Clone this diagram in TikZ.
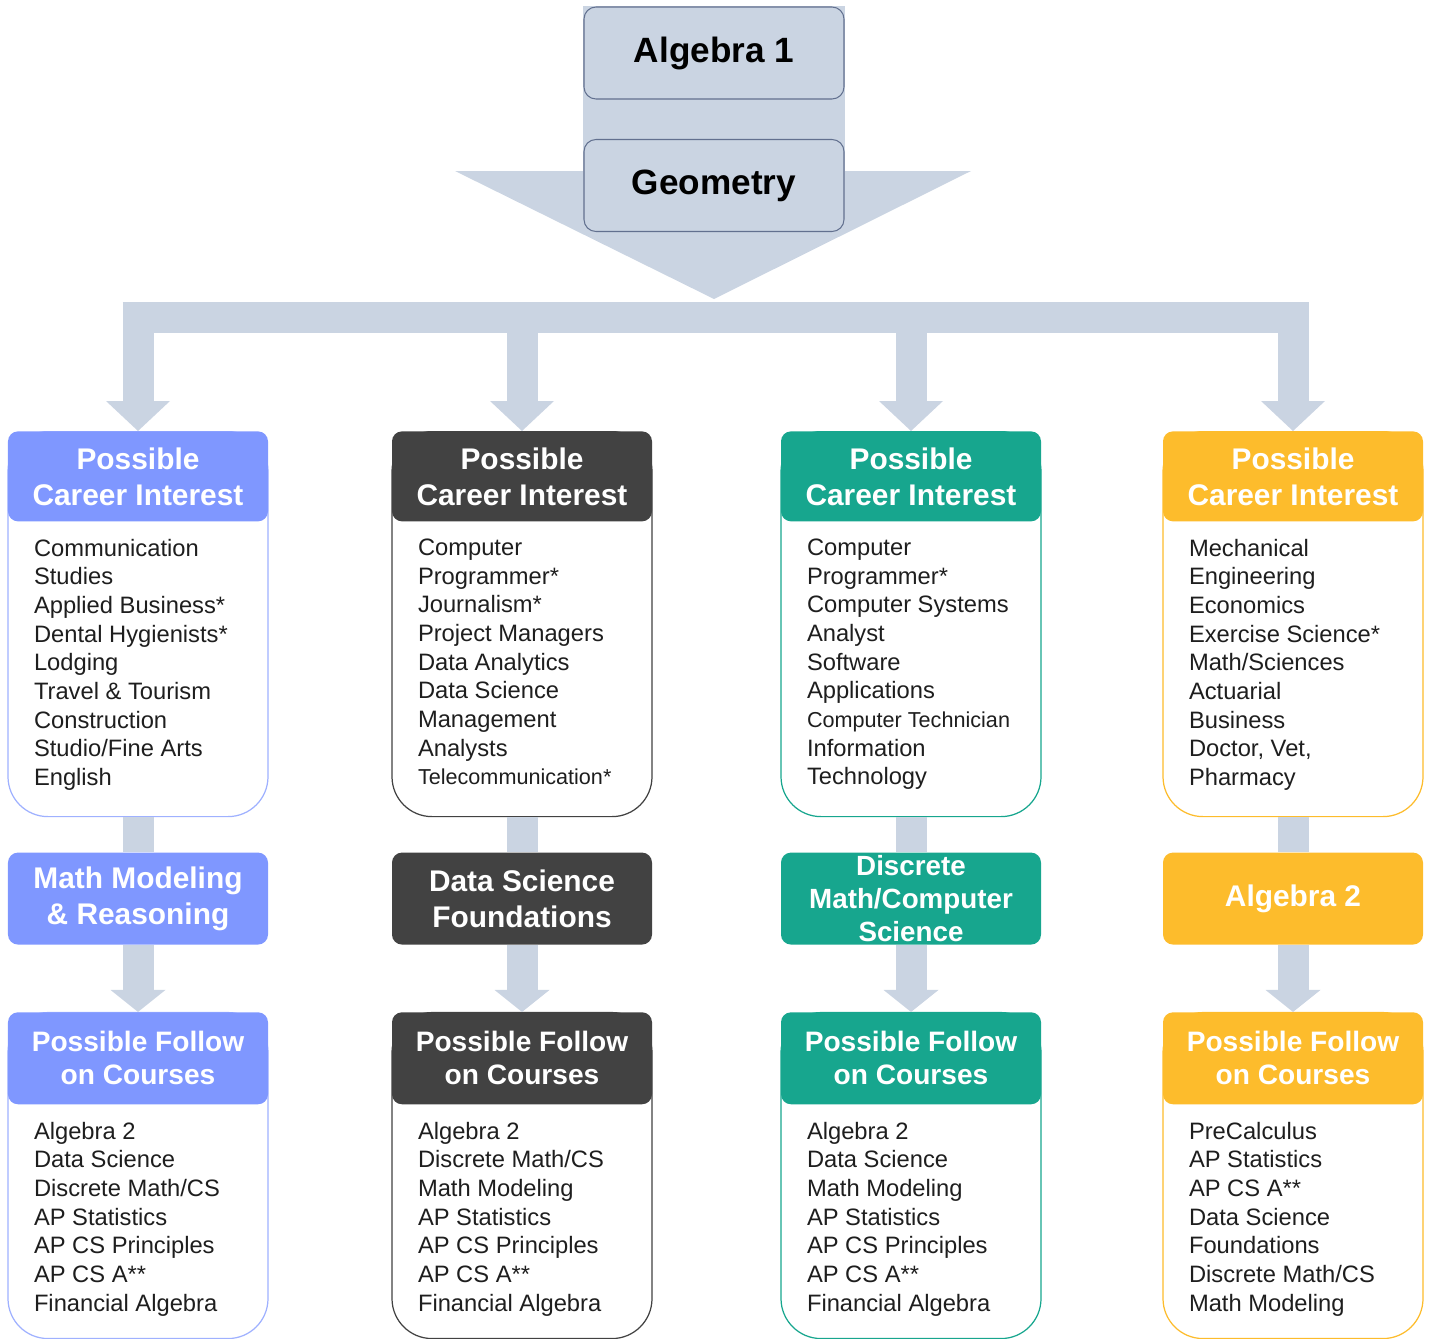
\documentclass[tikz,border=0pt]{standalone}
\usepackage{fontspec}
\setmainfont{Liberation Sans}
\usetikzlibrary{positioning,arrows.meta,backgrounds}
\definecolor{paleblue}{HTML}{CAD4E2}
\definecolor{boxline}{HTML}{62708F}
\definecolor{cblue}{HTML}{7F97FF}
\definecolor{cdark}{HTML}{424242}
\definecolor{cteal}{HTML}{17A68E}
\definecolor{cgold}{HTML}{FDBC2C}
\definecolor{listtext}{HTML}{1E1E1E}
\begin{document}
\begin{tikzpicture}[
        font=\bfseries,
        headfont/.style={font=\fontsize{17}{20.5}\selectfont\bfseries},
        followfont/.style={font=\fontsize{16}{18.8}\selectfont\bfseries}
    ]
    \tikzset{
        topbox/.style = {rectangle, rounded corners=0.24cm, draw=boxline, line width=0.6pt, fill=paleblue, minimum width=5.2cm, minimum height=1.84cm, font=\fontsize{20}{24}\selectfont\bfseries},
        cardbody/.style = {rectangle, rounded corners=0.8cm, draw=#1, line width=0.7pt, fill=white, minimum width=5.2cm, anchor=north},
        cardhead/.style = {rectangle, rounded corners=0.2cm, fill=#1, text=white, minimum width=5.2cm, align=center, anchor=north},
        midbox/.style = {rectangle, rounded corners=0.2cm, fill=#1, text=white, minimum width=5.2cm, minimum height=1.84cm, align=center, headfont},
        cardlist/.style = {align=left, inner sep=0pt, text=listtext, font=\fontsize{13.5}{16.3}\selectfont},
        stem/.style = {paleblue, line width=0.62cm},
        fatarrow/.style = {stem, -{Triangle[width=1.28cm,length=0.6cm,line width=0pt]}},
        smallarrow/.style = {stem, -{Triangle[width=1.1cm,length=0.44cm,line width=0pt]}},
    }
    \useasboundingbox (0,0) rectangle (28.58,-26.76);
    \node[topbox] (alg) at (14.28,-1.06) {Algebra 1};
    \node[topbox] (geo) at (14.28,-3.71) {Geometry};
    \coordinate (tip) at (14.28,-5.98);
    \coordinate (wingL) at (9.1,-3.42);
    \coordinate (wingR) at (19.42,-3.42);
    \coordinate (bar) at (14.28,-6.34);
    \begin{scope}[on background layer]
        \fill[paleblue] (alg.north west) rectangle (geo.east |- wingR);
        \fill[paleblue] (wingL) -- (wingR) -- (tip) -- cycle;
    \end{scope}

    \node[cardbody=cblue!75, minimum height=7.7cm] (cb1) at (2.76,-8.62) {};
    \node[cardhead=cblue, minimum height=1.8cm, headfont] (ch1) at (cb1.north) {Possible\\Career Interest};
    \node[cardlist, below right=0.34cm and 0.52cm of ch1.south west] (cl1) {Communication\\Studies\\Applied Business*\\Dental Hygienists*\\Lodging\\Travel \& Tourism\\Construction\\Studio/Fine Arts\\English};
    \node[midbox=cblue, below=0.7cm of cb1] (mid1) {Math Modeling\\\& Reasoning};
    \node[cardbody=cblue!75, minimum height=6.52cm, below=1.34cm of mid1] (fb1) {};
    \node[cardhead=cblue, minimum height=1.84cm, followfont] (fh1) at (fb1.north) {Possible Follow\\on Courses};
    \node[cardlist, below right=0.34cm and 0.52cm of fh1.south west] (fl1) {Algebra 2\\Data Science\\Discrete Math/CS\\AP Statistics\\AP CS Principles\\AP CS A**\\Financial Algebra};

    \node[cardbody=cdark, minimum height=7.7cm] (cb2) at (10.44,-8.62) {};
    \node[cardhead=cdark, minimum height=1.8cm, headfont] (ch2) at (cb2.north) {Possible\\Career Interest};
    \node[cardlist, below right=0.34cm and 0.52cm of ch2.south west] (cl2) {Computer\\Programmer*\\Journalism*\\Project Managers\\Data Analytics\\Data Science\\Management\\Analysts\\{\fontsize{12.3}{16.3}\selectfont Telecommunication*}};
    \node[midbox=cdark, below=0.7cm of cb2] (mid2) {Data Science\\Foundations};
    \node[cardbody=cdark, minimum height=6.52cm, below=1.34cm of mid2] (fb2) {};
    \node[cardhead=cdark, minimum height=1.84cm, followfont] (fh2) at (fb2.north) {Possible Follow\\on Courses};
    \node[cardlist, below right=0.34cm and 0.52cm of fh2.south west] (fl2) {Algebra 2\\Discrete Math/CS\\Math Modeling\\AP Statistics\\AP CS Principles\\AP CS A**\\Financial Algebra};

    \node[cardbody=cteal, minimum height=7.7cm] (cb3) at (18.22,-8.62) {};
    \node[cardhead=cteal, minimum height=1.8cm, headfont] (ch3) at (cb3.north) {Possible\\Career Interest};
    \node[cardlist, below right=0.34cm and 0.52cm of ch3.south west] (cl3) {Computer\\Programmer*\\Computer Systems\\Analyst\\Software\\Applications\\{\fontsize{12.3}{16.3}\selectfont Computer Technician}\\Information\\Technology};
    \node[midbox=cteal, below=0.7cm of cb3, label={[text=white, align=center, font=\fontsize{15.8}{18.8}\selectfont\bfseries]center:Discrete\\Math/Computer\\Science}] (mid3) {};
    \node[cardbody=cteal, minimum height=6.52cm, below=1.34cm of mid3] (fb3) {};
    \node[cardhead=cteal, minimum height=1.84cm, followfont] (fh3) at (fb3.north) {Possible Follow\\on Courses};
    \node[cardlist, below right=0.34cm and 0.52cm of fh3.south west] (fl3) {Algebra 2\\Data Science\\Math Modeling\\AP Statistics\\AP CS Principles\\AP CS A**\\Financial Algebra};

    \node[cardbody=cgold, minimum height=7.7cm] (cb4) at (25.86,-8.62) {};
    \node[cardhead=cgold, minimum height=1.8cm, headfont] (ch4) at (cb4.north) {Possible\\Career Interest};
    \node[cardlist, below right=0.34cm and 0.52cm of ch4.south west] (cl4) {Mechanical\\Engineering\\Economics\\Exercise Science*\\Math/Sciences\\Actuarial\\Business\\Doctor, Vet,\\Pharmacy};
    \node[midbox=cgold, below=0.7cm of cb4] (mid4) {Algebra 2};
    \node[cardbody=cgold, minimum height=6.52cm, below=1.34cm of mid4] (fb4) {};
    \node[cardhead=cgold, minimum height=1.84cm, followfont] (fh4) at (fb4.north) {Possible Follow\\on Courses};
    \node[cardlist, below right=0.34cm and 0.52cm of fh4.south west] (fl4) {PreCalculus\\AP Statistics\\AP CS A**\\Data Science\\Foundations\\Discrete Math/CS\\Math Modeling};

    \draw[stem] ([xshift=-0.31cm]ch1.north |- bar) -- ([xshift=0.31cm]ch4.north |- bar);
    \draw[fatarrow] (ch1.north |- bar) -- (ch1.north);
    \draw[fatarrow] (ch2.north |- bar) -- (ch2.north);
    \draw[fatarrow] (ch3.north |- bar) -- (ch3.north);
    \draw[fatarrow] (ch4.north |- bar) -- (ch4.north);
    \draw[stem] (cb1.south) -- (mid1.north);
    \draw[stem] (cb2.south) -- (mid2.north);
    \draw[stem] (cb3.south) -- (mid3.north);
    \draw[stem] (cb4.south) -- (mid4.north);
    \draw[smallarrow] (mid1.south) -- (fh1.north);
    \draw[smallarrow] (mid2.south) -- (fh2.north);
    \draw[smallarrow] (mid3.south) -- (fh3.north);
    \draw[smallarrow] (mid4.south) -- (fh4.north);
\end{tikzpicture}
\end{document}
